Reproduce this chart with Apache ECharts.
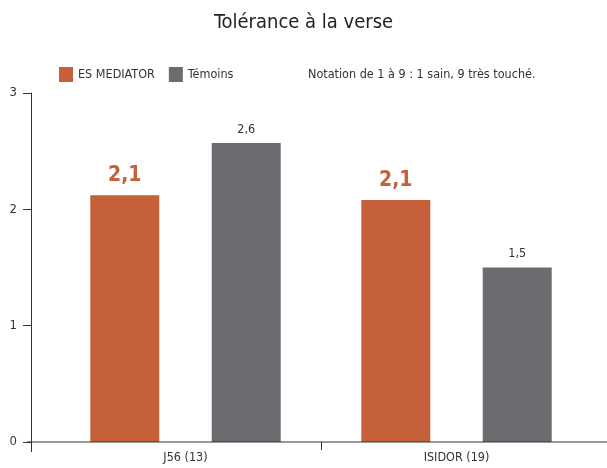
<!DOCTYPE html>
<html>
<head>
<meta charset="utf-8">
<script src="https://cdn.jsdelivr.net/npm/echarts@6/dist/echarts.min.js"></script>
<style>
  html, body { margin: 0; padding: 0; background: #fff; }
  #chart { width: 607px; height: 468px; }
</style>
</head>
<body>
<div id="chart"></div>
<script>
const categories = ['J56 (13)', 'ISIDOR (19)'];
const seriesNames = ['ES MEDIATOR', 'Témoins'];
const mediator = [2.12, 2.08];
const temoins = [2.57, 1.5];
const yTicks = [0, 1, 2, 3];

const font = '"DejaVu Sans Condensed", "Liberation Sans Narrow", sans-serif';
const orange = '#c5603a';
const grey = '#6b6c70';
const fmt = p => p.value.toFixed(1).replace('.', ',');

const chart = echarts.init(document.getElementById('chart'));

const option = {
  animation: false,
  textStyle: { fontFamily: font },
  title: [
    {
      text: 'Tolérance à la verse',
      left: 'center',
      top: 8,
      textStyle: { fontFamily: font, fontSize: 20, fontWeight: 'normal', color: '#222' }
    },
    {
      text: 'Notation de 1 à 9 : 1 sain, 9 très touché.',
      left: 303,
      top: 63,
      textStyle: { fontFamily: font, fontSize: 12.5, fontWeight: 'normal', color: '#333' }
    }
  ],
  legend: {
    left: 54,
    top: 62,
    itemWidth: 14,
    itemHeight: 15,
    itemGap: 14,
    icon: 'rect',
    textStyle: { fontFamily: font, fontSize: 12.5, color: '#333' },
    data: seriesNames
  },
  grid: { left: 50, right: 15, top: 93, bottom: 26 },
  xAxis: {
    type: 'category',
    data: categories,
    axisLine: { show: false },
    axisTick: { show: false },
    axisLabel: { fontFamily: font, fontSize: 12.5, color: '#333', margin: 9 }
  },
  yAxis: {
    type: 'value',
    min: 0,
    max: yTicks[yTicks.length - 1],
    interval: 1,
    offset: 19,
    splitLine: { show: false },
    axisLine: { show: true, lineStyle: { color: '#333' } },
    axisTick: { show: true, length: 8, lineStyle: { color: '#333' } },
    axisLabel: { fontFamily: font, fontSize: 13, color: '#333', margin: 14 }
  },
  series: [
    {
      name: seriesNames[0],
      type: 'bar',
      data: mediator,
      barWidth: 69,
      barGap: '76%',
      itemStyle: { color: orange },
      label: {
        show: true,
        position: 'top',
        distance: 9,
        formatter: fmt,
        fontFamily: font,
        fontSize: 21,
        fontWeight: 'bold',
        color: orange
      }
    },
    {
      name: seriesNames[1],
      type: 'bar',
      data: temoins,
      barWidth: 69,
      itemStyle: { color: grey },
      label: {
        show: true,
        position: 'top',
        distance: 7,
        formatter: fmt,
        fontFamily: font,
        fontSize: 12.5,
        color: '#333'
      }
    }
  ]
};

chart.setOption(option);

// baseline runs past the grid on both sides, y axis pokes below it,
// and one tick separates the two groups
const y0 = chart.convertToPixel({ yAxisIndex: 0 }, 0);
const xA = chart.convertToPixel({ xAxisIndex: 0 }, categories[0]);
const xB = chart.convertToPixel({ xAxisIndex: 0 }, categories[1]);
const xMid = Math.round((xA + xB) / 2) + 0.5;
chart.setOption({
  graphic: [
    {
      type: 'line',
      shape: { x1: 27, y1: y0, x2: 607, y2: y0 },
      style: { stroke: '#333', lineWidth: 1 },
      z: 10
    },
    {
      type: 'line',
      shape: { x1: 31.5, y1: y0, x2: 31.5, y2: y0 + 10 },
      style: { stroke: '#333', lineWidth: 1 },
      z: 10
    },
    {
      type: 'line',
      shape: { x1: xMid, y1: y0, x2: xMid, y2: y0 + 8 },
      style: { stroke: '#333', lineWidth: 1 },
      z: 10
    }
  ]
});
</script>
</body>
</html>
